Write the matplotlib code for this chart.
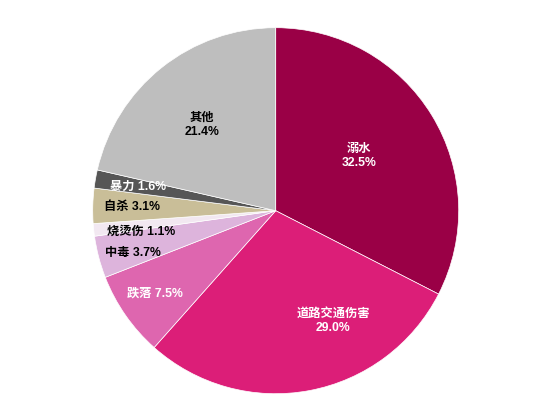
import matplotlib
matplotlib.use("Agg")
import matplotlib.pyplot as plt

categories = ["溺水", "道路交通伤害", "跌落", "中毒", "烧烫伤", "自杀", "暴力", "其他"]
values = [32.5, 29.0, 7.5, 3.7, 1.1, 3.1, 1.6, 21.4]
label_texts = ["溺水\n32.5%", "道路交通伤害\n29.0%", "跌落 7.5%", "中毒 3.7%",
               "烧烫伤 1.1%", "自杀 3.1%", "暴力 1.6%", "其他\n21.4%"]

colors = ["#9A0046", "#DC1E78", "#DE66AF", "#DDB4DC", "#F2E8F1",
          "#C9BE98", "#565656", "#BEBEBE"]
text_colors = ["white", "white", "white", "black", "black", "black", "white", "black"]
# label positions in pixel coordinates (x, y from top)
label_pos = [(359, 156), (333, 321), (155, 294), (133, 253),
             (141, 232), (132, 207), (138, 187), (202, 125)]

W, H = 556, 414
fig = plt.figure(figsize=(W / 100, H / 100), dpi=100)
ax = fig.add_axes([0, 0, 1, 1])

cx, cy, r = 275.7, H - 211.7, 183
ax.pie(values, colors=colors, startangle=90, counterclock=False,
       center=(cx, cy), radius=r, frame=True,
       wedgeprops=dict(edgecolor="white", linewidth=0.5))
ax.set_xlim(0, W)
ax.set_ylim(0, H)
ax.set_aspect("equal")
ax.axis("off")

fam = ["Liberation Sans", "Noto Sans CJK SC"]
for txt, (x, y), c in zip(label_texts, label_pos, text_colors):
    ax.text(x, H - y, txt, ha="center", va="center", color=c,
            fontsize=8.8, fontweight="bold", family=fam, linespacing=1.2)

fig.savefig("out.png", dpi=100, facecolor="white")
